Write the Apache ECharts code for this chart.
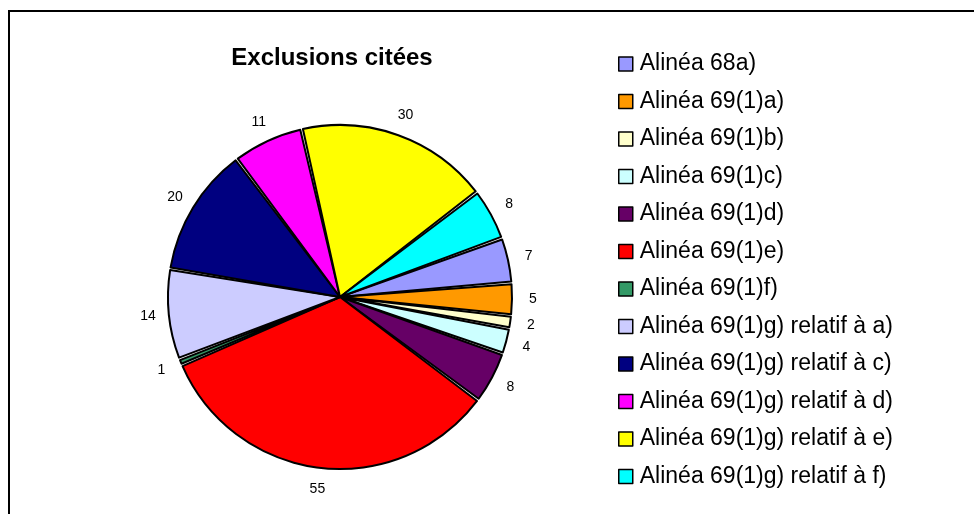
<!DOCTYPE html>
<html>
<head>
<meta charset="utf-8">
<title>Exclusions citées</title>
<script src="https://cdn.jsdelivr.net/npm/echarts@6/dist/echarts.min.js"></script>
<style>
  html, body { margin: 0; padding: 0; background: #fff; }
  #chart { width: 974px; height: 514px; }
</style>
</head>
<body>
<div id="chart"></div>
<script>
// Categories of cited exclusions and the number of citations for each
const categories = [
  'Alinéa 68a)',
  'Alinéa 69(1)a)',
  'Alinéa 69(1)b)',
  'Alinéa 69(1)c)',
  'Alinéa 69(1)d)',
  'Alinéa 69(1)e)',
  'Alinéa 69(1)f)',
  'Alinéa 69(1)g) relatif à a)',
  'Alinéa 69(1)g) relatif à c)',
  'Alinéa 69(1)g) relatif à d)',
  'Alinéa 69(1)g) relatif à e)',
  'Alinéa 69(1)g) relatif à f)'
];
const counts = [7, 5, 2, 4, 8, 55, 1, 14, 20, 11, 30, 8];

// Slice fill colours, in category order
const sliceColors = [
  '#9999FF', '#FF9900', '#FFFFCC', '#CCFFFF', '#660066', '#FF0000',
  '#339966', '#CCCCFF', '#000080', '#FF00FF', '#FFFF00', '#00FFFF'
];

const FONT = "'Liberation Sans', Arial, Helvetica, sans-serif";
const CENTER = [340, 297];
const START = 20;
const PAD = 0.9;

const pieData = categories.map((name, i) => ({
  name: name,
  value: counts[i],
  itemStyle: { color: sliceColors[i] }
}));

const chart = echarts.init(document.getElementById('chart'), null, { renderer: 'canvas' });

chart.setOption({
  backgroundColor: '#ffffff',
  animation: false,
  title: {
    text: 'Exclusions citées',
    left: 332,
    top: 46,
    padding: 0,
    textAlign: 'center',
    textStyle: {
      fontFamily: FONT,
      fontWeight: 'bold',
      fontSize: 24,
      color: '#000'
    }
  },
  legend: {
    orient: 'vertical',
    left: 618,
    top: 52.5,
    padding: 0,
    data: categories,
    icon: 'rect',
    itemWidth: 14,
    itemHeight: 14,
    itemGap: 14.5,
    selectedMode: false,
    itemStyle: { borderColor: '#000', borderWidth: 1.5 },
    textStyle: {
      fontFamily: FONT,
      fontSize: 23,
      lineHeight: 23,
      color: '#000',
      padding: [0, 0, 0, 2]
    }
  },
  graphic: [{
    type: 'rect',
    silent: true,
    shape: { x: 9, y: 11, width: 1000, height: 600 },
    style: { fill: 'none', stroke: '#000', lineWidth: 2 }
  }],
  series: [
    {
      // the pie itself
      type: 'pie',
      name: 'Exclusions',
      center: CENTER,
      radius: 172,
      startAngle: START,
      clockwise: true,
      padAngle: PAD,
      avoidLabelOverlap: false,
      silent: true,
      label: { show: false },
      labelLine: { show: false },
      itemStyle: { borderColor: '#000', borderWidth: 2 },
      emphasis: { disabled: true },
      data: pieData
    },
    {
      // transparent ring just outside the pie that carries the value labels
      type: 'pie',
      name: 'Valeurs',
      center: CENTER,
      radius: [184, 196],
      startAngle: START,
      clockwise: true,
      padAngle: PAD,
      avoidLabelOverlap: false,
      silent: true,
      legendHoverLink: false,
      itemStyle: { color: 'rgba(0,0,0,0)', borderWidth: 0 },
      label: {
        show: true,
        position: 'inside',
        formatter: '{c}',
        fontFamily: FONT,
        fontSize: 14,
        color: '#000'
      },
      labelLine: { show: false },
      emphasis: { disabled: true },
      data: categories.map((name, i) => ({ name: name, value: counts[i] }))
    }
  ]
});
</script>
</body>
</html>
